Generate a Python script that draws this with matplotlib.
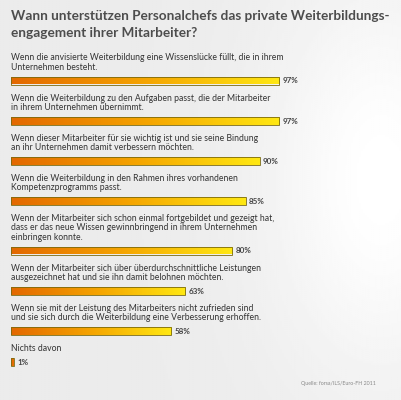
import numpy as np
import matplotlib.pyplot as plt
from matplotlib.colors import LinearSegmentedColormap

plt.rcParams['font.family'] = ['Lato', 'DejaVu Sans']

title = ["Wann unterstützen Personalchefs das private Weiterbildungs-",
         "engagement ihrer Mitarbeiter?"]
labels = [
    "Wenn die anvisierte Weiterbildung eine Wissenslücke füllt, die in ihrem\nUnternehmen besteht.",
    "Wenn die Weiterbildung zu den Aufgaben passt, die der Mitarbeiter\nin ihrem Unternehmen übernimmt.",
    "Wenn dieser Mitarbeiter für sie wichtig ist und sie seine Bindung\nan ihr Unternehmen damit verbessern möchten.",
    "Wenn die Weiterbildung in den Rahmen ihres vorhandenen\nKompetenzprogramms passt.",
    "Wenn der Mitarbeiter sich schon einmal fortgebildet und gezeigt hat,\ndass er das neue Wissen gewinnbringend in ihrem Unternehmen\neinbringen konnte.",
    "Wenn der Mitarbeiter sich über überdurchschnittliche Leistungen\nausgezeichnet hat und sie ihn damit belohnen möchten.",
    "Wenn sie mit der Leistung des Mitarbeiters nicht zufrieden sind\nund sie sich durch die Weiterbildung eine Verbesserung erhoffen.",
    "Nichts davon",
]
values = [97, 97, 90, 85, 80, 63, 58, 1]
source = "Quelle: forsa/ILS/Euro-FH 2011"

W, H = 402, 400
fig = plt.figure(figsize=(W / 100, H / 100), dpi=100)

# background with a soft light patch on the right
bg = fig.add_axes([0, 0, 1, 1])
xx, yy = np.meshgrid(np.linspace(0, 1, 200), np.linspace(0, 1, 200))
glow = np.exp(-((xx - 0.95) ** 2 / 0.08 + (yy - 0.45) ** 2 / 0.25))
bg.imshow(0.925 + 0.075 * glow, cmap='gray', vmin=0, vmax=1, extent=[0, 1, 0, 1], aspect='auto')
bg.axis('off')

# bars: x in percent, y in pixels from top
px_per_pct = 2.763
left = 11
ax = fig.add_axes([left / W, 0, 1 - left / W, 1])
ax.axis('off')

for i, line in enumerate(title):
    ax.text(0, 16.5 + i * 16.5, line, fontsize=9.8, fontweight='bold', color='#4d4d4d',
            va='center')

cmap = LinearSegmentedColormap.from_list('oy', ['#e36800', '#f5a400', '#ffe812'])
grad = np.linspace(0, 1, 256).reshape(1, -1)

line_h = 9.2
bar_h = 8
y = 58
for lab, val in zip(labels, values):
    lines = lab.split('\n')
    for j, line in enumerate(lines):
        ax.text(0, y + j * line_h, line, fontsize=6.2, color='#333333', va='center')
    yb = y + (len(lines) - 1) * line_h + 13.3
    bar = ax.barh(yb, val, height=bar_h, color='none', edgecolor='#7a6a10', linewidth=0.6)[0]
    # gradient runs over the bar; very short bars stay orange
    im = ax.imshow(grad, cmap=cmap, extent=[0, max(val, 20), yb + bar_h / 2, yb - bar_h / 2],
                   aspect='auto', zorder=1)
    im.set_clip_path(bar)
    bar.set_zorder(2)
    ax.text(val + 1.2, yb + 0.3, f"{val}%", fontsize=5.8, fontweight='bold',
            color='#444444', va='center')
    y = yb + 17.7

ax.set_xlim(0, (W - left) / px_per_pct)
ax.set_ylim(H, 0)

fig.text(376 / W, 1 - 384 / H, source, fontsize=3.8, color='#888888', ha='right', va='center')

fig.savefig('out.png', dpi=100)
